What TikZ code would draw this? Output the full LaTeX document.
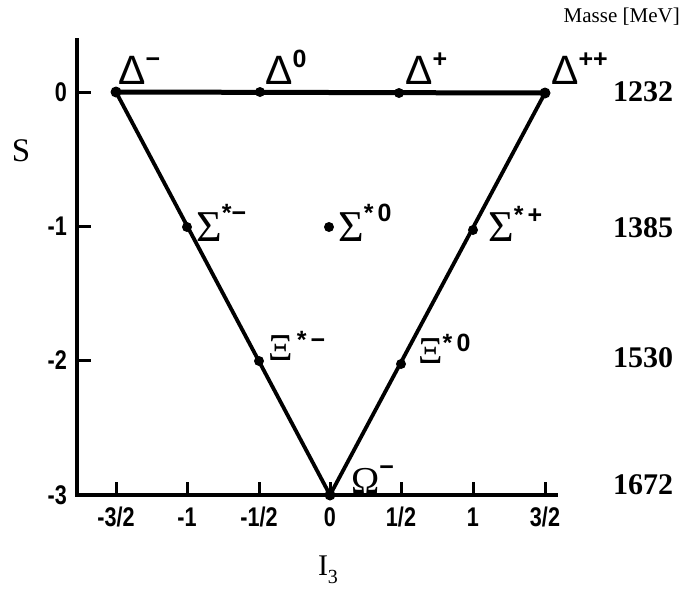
\documentclass[tikz,border=0pt]{standalone}
\usepackage{fontspec}
\setmainfont{Liberation Serif}
\newfontfamily\lsans{Liberation Sans}
\newfontfamily\tickfont[FakeStretch=0.8]{Liberation Sans}
\begin{document}
\begin{tikzpicture}[x=1pt,y=-1pt,
  axisline/.style={line width=4.5pt},
  sideline/.style={line width=3.8pt},
  topline/.style={line width=5pt},
  tickmark/.style={line width=3pt},
  ticklabel/.style={font=\tickfont\bfseries\fontsize{27}{28}\selectfont, inner sep=0pt},
  masslabel/.style={font=\fontsize{30}{30}\selectfont\bfseries, inner sep=0pt},
  dotbig/.style={circle, fill=black, inner sep=0pt, minimum size=11pt},
  dotsmall/.style={circle, fill=black, inner sep=0pt, minimum size=10pt},
  plabel/.style={inner sep=0pt, anchor=south west}]
\newcommand{\sups}[2][17pt]{\raisebox{#1}{\lsans\bfseries\fontsize{25}{25}\selectfont #2}}
\newcommand{\Dl}{{\lsans\fontsize{41}{41}\selectfont Δ}}
\newcommand{\Sl}{{\fontsize{44}{44}\selectfont Σ}}
\newcommand{\Xl}{{\fontsize{38}{38}\selectfont Ξ}}
\newcommand{\Ol}{{\fontsize{38}{38}\selectfont Ω}}
\useasboundingbox (0,0) rectangle (681,590);
% axes
\coordinate (ytop) at (77,38);
\coordinate (orig) at (77,495);
\coordinate (xend) at (558,495);
\draw[axisline] (ytop) -- (orig) -- (xend);
% y ticks
\foreach \yy/\lab in {92/0,226/-1,360/-2} {
  \coordinate (yt\lab) at (77,\yy);
  \coordinate (yte\lab) at (91,\yy);
  \draw[tickmark] (yt\lab) -- (yte\lab);
}
\foreach \yy/\lab/\nm in {92/0/a,226/-1/b,360/-2/c,495/-3/d}
  \node[ticklabel, anchor=east] (ylab\nm) at (67,\yy) {\lab};
% x ticks
\foreach \xx/\lab/\nm in {116/-3\slash 2/a,187/-1/b,259/-1\slash 2/c,330/0/d,401/1\slash 2/e,473/1/f,545/3\slash 2/g} {
  \coordinate (xt\nm) at (\xx,495);
  \coordinate (xte\nm) at (\xx,482);
  \draw[tickmark] (xt\nm) -- (xte\nm);
  \node[ticklabel] (xlab\nm) at (\xx,517) {\lab};
}
% axis titles
\node[inner sep=0pt, font=\fontsize{33}{33}\selectfont] (Slab) at (21,151) {S};
\node[inner sep=0pt, font=\fontsize{30}{30}\selectfont, anchor=base] (Ilab) at (328,575) {I\raisebox{-8pt}{\fontsize{20}{20}\selectfont 3}};
\node[inner sep=0pt, font=\fontsize{21}{22}\selectfont, anchor=east] (masse) at (680,17) {Masse [MeV]};
% masses
\node[masslabel] (m1) at (643,92) {1232};
\node[masslabel] (m2) at (643,228) {1385};
\node[masslabel] (m3) at (643,358) {1530};
\node[masslabel] (m4) at (643,485) {1672};
% particles
\node[dotbig] (dm) at (116,92) {};
\node[dotsmall] (d0) at (260,92) {};
\node[dotsmall] (dp) at (399,93) {};
\node[dotbig] (dpp) at (545,93) {};
\node[dotsmall] (sm) at (187,227) {};
\node[dotsmall] (s0) at (329,227) {};
\node[dotsmall] (sp) at (473,230) {};
\node[dotsmall] (xm) at (259,361) {};
\node[dotsmall] (x0) at (401,364) {};
\node[dotbig] (om) at (330,495) {};
\draw[topline] (dm.center) -- (dpp.center);
\draw[sideline] (dm.center) -- (om.center) -- (dpp.center);
% labels
\node[plabel] (ldm) at (118,85) {\Dl\sups{−}};
\node[plabel] (ld0) at (265,85) {\Dl\sups{0}};
\node[plabel] (ldp) at (405,85) {\Dl\sups{+}};
\node[plabel] (ldpp) at (551,85) {\Dl\sups{++}};
\node[plabel] (lsm) at (196,242) {\Sl\sups[20pt]{*−}};
\node[plabel] (ls0) at (338,242) {\Sl\sups[20pt]{*\,0}};
\node[plabel] (lsp) at (488,242) {\Sl\sups[18pt]{*\,+}};
\node[plabel] (lxm) at (268,361) {\Xl\sups[12pt]{\,*\,−}};
\node[plabel] (lx0) at (418,364) {\Xl\sups[12pt]{*\,0}};
\node[plabel] (lom) at (351,494) {\Ol\sups[18pt]{−}};
\end{tikzpicture}
\end{document}
